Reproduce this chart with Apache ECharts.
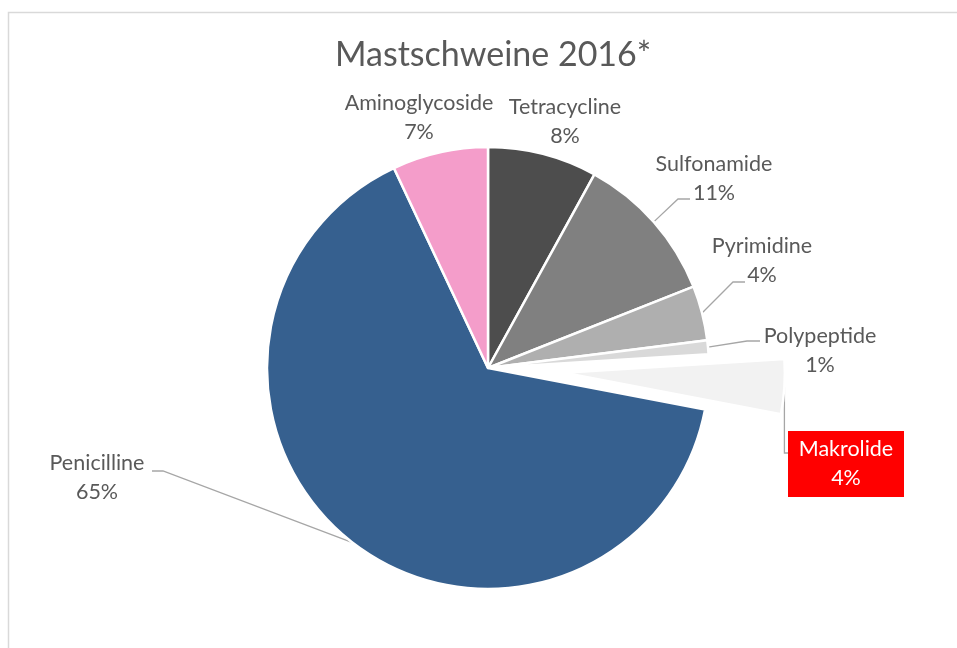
<!DOCTYPE html>
<html>
<head>
<meta charset="utf-8">
<script src="https://cdn.jsdelivr.net/npm/echarts@6/dist/echarts.min.js"></script>
<style>
  html, body { margin: 0; padding: 0; background: #ffffff; }
  #chart { width: 957px; height: 648px; }
</style>
</head>
<body>
<div id="chart"></div>
<script>
// Antibiotic classes used in fattening pigs, share of total in percent
const chartTitle = 'Mastschweine 2016*';
const categories = ['Tetracycline', 'Sulfonamide', 'Pyrimidine', 'Polypeptide', 'Makrolide', 'Penicilline', 'Aminoglycoside'];
const shares = [8, 11, 4, 1, 4, 65, 7];
const explodedCategory = 'Makrolide';

// Slice fills
const sliceColors = {
  Tetracycline: '#4d4d4d',
  Sulfonamide: '#808080',
  Pyrimidine: '#afafaf',
  Polypeptide: '#d9d9d9',
  Makrolide: '#f2f2f2',
  Penicilline: '#36608f',
  Aminoglycoside: '#f49dca'
};

// Label block centres and leader-line bends (elbow, end) in pixels
const labelPlacement = {
  Tetracycline:   { x: 565, y: 122 },
  Aminoglycoside: { x: 419, y: 118 },
  Sulfonamide:    { x: 714, y: 179, bend: [[678, 199], [690, 199]] },
  Pyrimidine:     { x: 762, y: 261, bend: [[733, 282], [745, 282]] },
  Polypeptide:    { x: 820, y: 351, bend: [[747, 341], [760, 341]] },
  Makrolide:      { x: 846, y: 464, bend: [[781, 453], [788, 453]], vertical: true },
  Penicilline:    { x: 97,  y: 478, bend: [[163, 471], [152, 471]] }
};

const PIE_CENTER = [488, 368];
const PIE_RADIUS = 221;
const EXPLODE_DISTANCE = 76;
const FONT = 'Lato, "Open Sans", sans-serif';
const TEXT_COLOR = '#595959';
const CLEAR = 'rgba(0,0,0,0)';

// Direction of the exploded slice: its mid angle, clockwise from 12 o'clock
const total = shares.reduce((a, b) => a + b, 0);
const explodedIndex = categories.indexOf(explodedCategory);
const before = shares.slice(0, explodedIndex).reduce((a, b) => a + b, 0);
const midAngle = (before + shares[explodedIndex] / 2) / total * 2 * Math.PI;
const explodeShift = [EXPLODE_DISTANCE * Math.sin(midAngle), -EXPLODE_DISTANCE * Math.cos(midAngle)];

// Main pie: every slice except the exploded one, plus all labels
const mainData = categories.map((name, i) => {
  const isExploded = name === explodedCategory;
  const item = {
    name: name,
    value: shares[i],
    itemStyle: isExploded ? { color: CLEAR, borderWidth: 0 } : { color: sliceColors[name] },
    labelLine: { show: !!labelPlacement[name].bend }
  };
  if (isExploded) {
    item.label = {
      color: '#ffffff',
      backgroundColor: '#ff0000',
      width: 116,
      padding: [4, 0, 4, 0]
    };
  }
  return item;
});

// Offset pie: only the exploded slice is painted
const explodedData = categories.map((name, i) => ({
  name: name,
  value: shares[i],
  itemStyle: name === explodedCategory
    ? { color: sliceColors[name], borderColor: '#ffffff', borderWidth: 2.5 }
    : { color: CLEAR, borderWidth: 0 }
}));

const chart = echarts.init(document.getElementById('chart'), null, { renderer: 'canvas' });

chart.setOption({
  animation: false,
  backgroundColor: '#ffffff',
  title: {
    text: chartTitle,
    left: 330,
    top: 33,
    textStyle: { fontFamily: FONT, fontSize: 34, fontWeight: 'normal', color: TEXT_COLOR }
  },
  graphic: [{
    type: 'rect',
    left: 6,
    top: 10,
    silent: true,
    shape: { width: 1000, height: 700 },
    style: { fill: 'none', stroke: '#d9d9d9', lineWidth: 1.5 }
  }],
  series: [{
    type: 'pie',
    center: PIE_CENTER,
    radius: PIE_RADIUS,
    startAngle: 90,
    clockwise: true,
    avoidLabelOverlap: false,
    silent: true,
    emphasis: { disabled: true },
    itemStyle: { borderColor: '#ffffff', borderWidth: 2.5 },
    label: {
      show: true,
      position: 'outside',
      fontFamily: FONT,
      fontSize: 21.5,
      lineHeight: 29,
      color: TEXT_COLOR,
      align: 'center',
      formatter: p => p.name + '\n' + p.value + '%'
    },
    labelLine: {
      show: true,
      length: 10,
      length2: 10,
      lineStyle: { color: '#a6a6a6', width: 1.3 }
    },
    labelLayout: function (params) {
      const name = categories[params.dataIndex];
      const place = labelPlacement[name];
      const out = { x: place.x, y: place.y, align: 'center', verticalAlign: 'middle' };
      if (place.bend && params.labelLinePoints && params.labelLinePoints.length) {
        let start = params.labelLinePoints[0];
        if (name === explodedCategory) {
          start = [start[0] + explodeShift[0], start[1] + explodeShift[1]];
        }
        const elbow = place.vertical ? [start[0], place.bend[0][1]] : place.bend[0];
        out.labelLinePoints = [start, elbow, place.bend[1]];
      }
      return out;
    },
    data: mainData
  }, {
    type: 'pie',
    center: [PIE_CENTER[0] + explodeShift[0], PIE_CENTER[1] + explodeShift[1]],
    radius: PIE_RADIUS,
    startAngle: 90,
    clockwise: true,
    silent: true,
    emphasis: { disabled: true },
    label: { show: false },
    labelLine: { show: false },
    data: explodedData
  }]
});
</script>
</body>
</html>
